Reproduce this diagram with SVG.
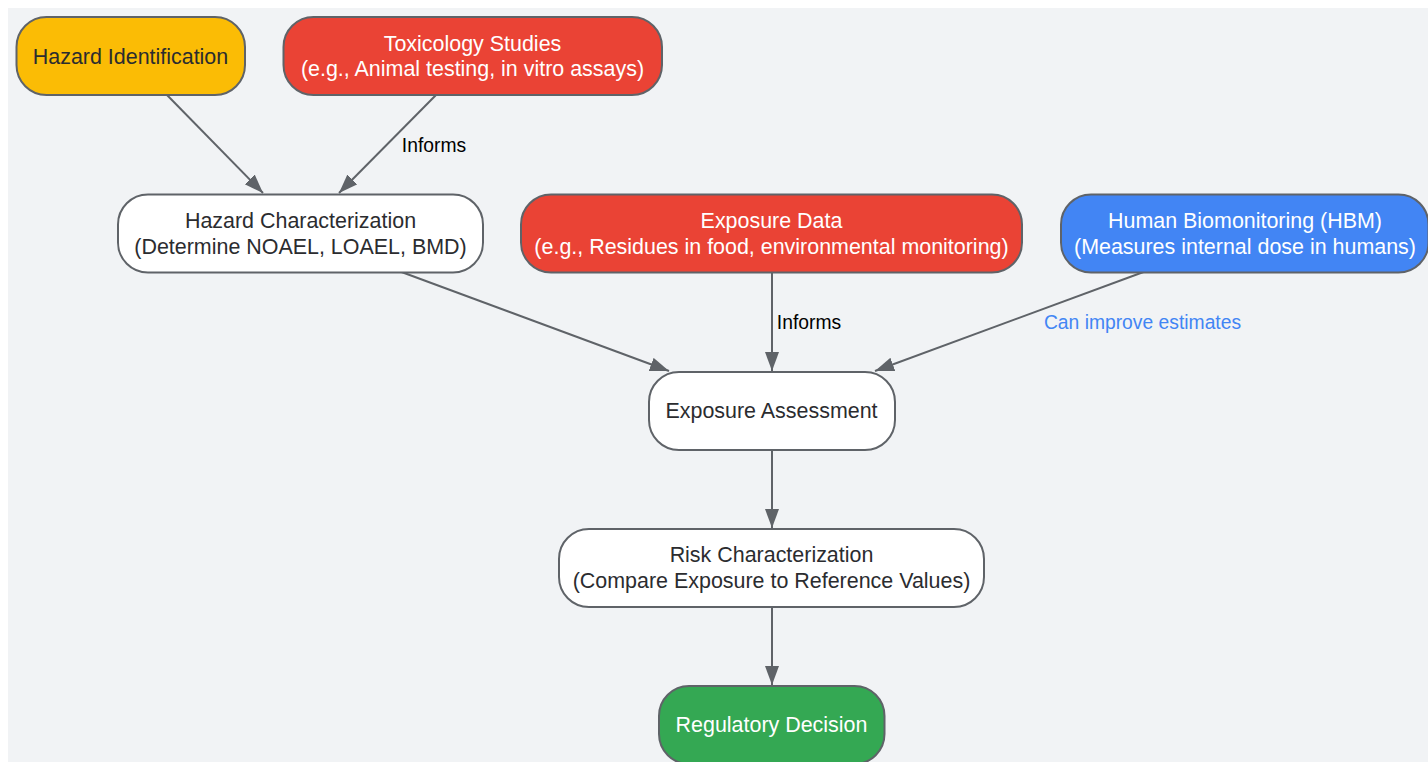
<svg xmlns="http://www.w3.org/2000/svg" width="1428" height="762" viewBox="0 0 1428 762">
<style>
.n{stroke:#5f6368;stroke-width:2}
text{font-family:"Liberation Sans",Arial,sans-serif;font-size:21.45px;text-anchor:middle}
.d{fill:#2b2c2f}.w{fill:#fff}
.l{font-size:19.3px;fill:#000}
.c{fill:none;stroke:#5f6368;stroke-width:2;marker-end:url(#a)}
</style>
<defs><marker id="a" markerUnits="userSpaceOnUse" markerWidth="22" markerHeight="16" refX="19" refY="7.500" orient="auto"><path d="M0 0.500L19 7.500L0 14.500Z" fill="#5f6368"/></marker></defs>
<rect width="1428" height="762" fill="#fff"/>
<rect x="8" y="8" width="1420" height="754" fill="#f1f3f5"/>
<g id="connectors">
<path class="c" d="M167 95L263 193"/>
<path class="c" d="M436 95L339 193"/>
<path class="c" d="M401.500 272L669 371"/>
<path class="c" d="M772 272V371"/>
<path class="c" d="M1143.500 272L875 371"/>
<path class="c" d="M772 450V528"/>
<path class="c" d="M772 606V685"/>
<text class="l" x="434" y="151.500">Informs</text>
<text class="l" x="809" y="329">Informs</text>
<text class="l" x="1142.500" y="329" style="fill:#4285f4">Can improve estimates</text>
</g>
<g id="hazard-identification"><rect class="n" x="16.500" y="17" width="228.500" height="78" rx="30" fill="#fbbc05"/><text class="d" x="130.500" y="64">Hazard Identification</text></g>
<g id="toxicology-studies"><rect class="n" x="283.500" y="17" width="378.500" height="78" rx="30" fill="#ea4335"/><text class="w" x="472.500" y="51">Toxicology Studies</text><text class="w" x="472.500" y="76">(e.g., Animal testing, in vitro assays)</text></g>
<g id="hazard-characterization"><rect class="n" x="118" y="194.500" width="365" height="78" rx="30" fill="#fff"/><text class="d" x="300.500" y="228">Hazard Characterization</text><text class="d" x="300.500" y="254">(Determine NOAEL, LOAEL, BMD)</text></g>
<g id="exposure-data"><rect class="n" x="521" y="194.500" width="501" height="78" rx="30" fill="#ea4335"/><text class="w" x="771.500" y="228">Exposure Data</text><text class="w" x="771.500" y="254">(e.g., Residues in food, environmental monitoring)</text></g>
<g id="human-biomonitoring"><rect class="n" x="1061" y="194.500" width="367.500" height="78" rx="30" fill="#4285f4"/><text class="w" x="1245" y="228">Human Biomonitoring (HBM)</text><text class="w" x="1245" y="254">(Measures internal dose in humans)</text></g>
<g id="exposure-assessment"><rect class="n" x="649" y="372" width="246" height="78" rx="30" fill="#fff"/><text class="d" x="771.500" y="418">Exposure Assessment</text></g>
<g id="risk-characterization"><rect class="n" x="559" y="529" width="425" height="78" rx="30" fill="#fff"/><text class="d" x="771.500" y="562">Risk Characterization</text><text class="d" x="771.500" y="588">(Compare Exposure to Reference Values)</text></g>
<g id="regulatory-decision"><rect class="n" x="659" y="686" width="225.500" height="78" rx="30" fill="#34a853"/><text class="w" x="771.500" y="732">Regulatory Decision</text></g>
</svg>
